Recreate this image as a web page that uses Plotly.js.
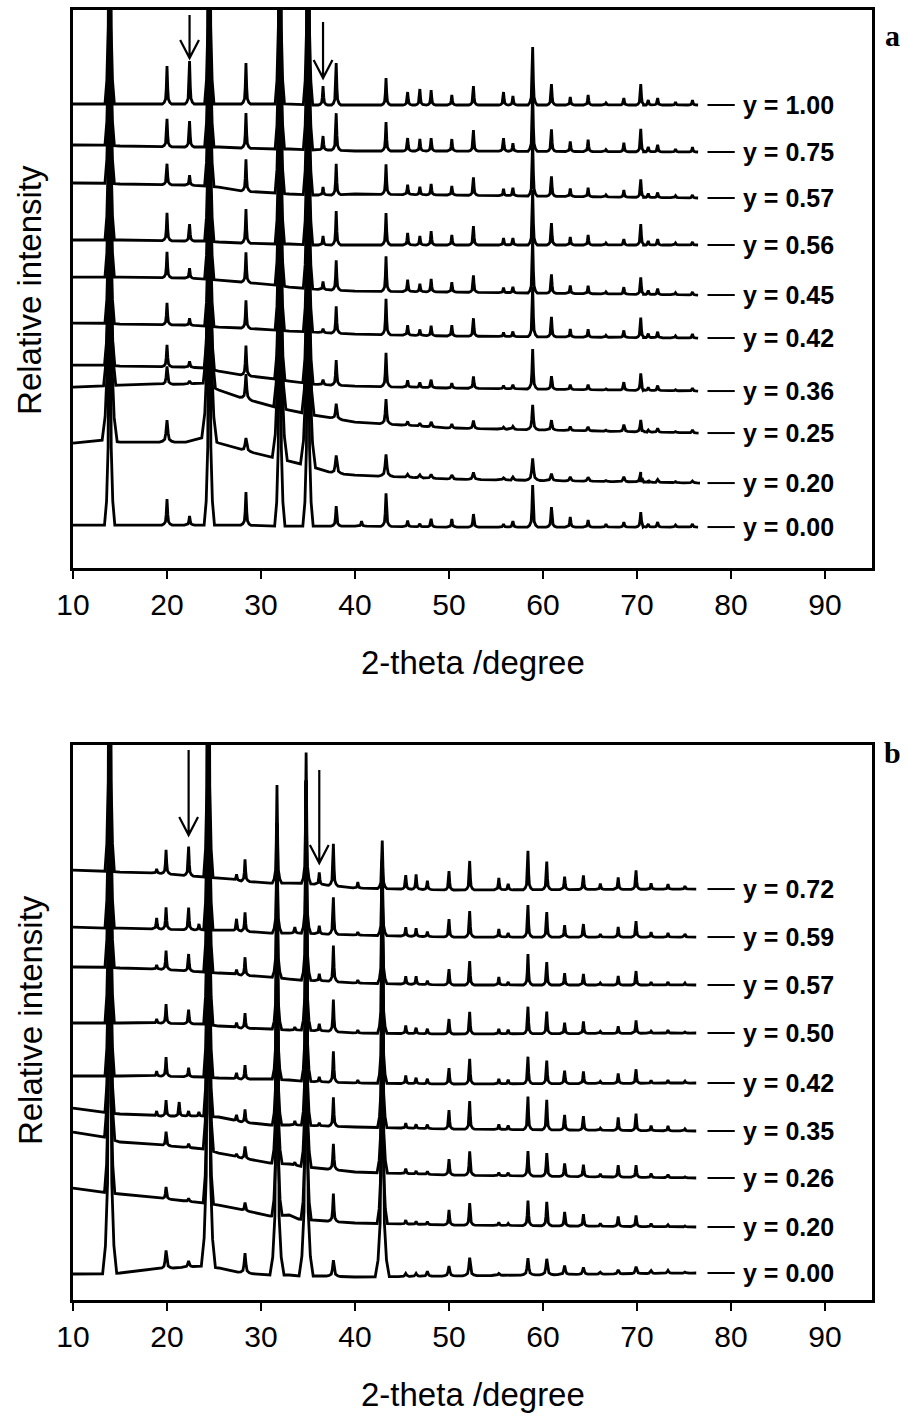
<!DOCTYPE html>
<html><head><meta charset="utf-8">
<script src="https://cdn.plot.ly/plotly-3.0.1.min.js"></script>
<style>html,body{margin:0;padding:0;background:#fff}</style>
</head><body><div id="chart" style="width:908px;height:1418px"></div>
<script>
// ================= DATA =================
// ---- Panel a ----
const PEAKS_A = [13.9, 20.0, 22.4, 24.5, 28.4, 32.0, 35.0, 36.6, 38.0, 40.7, 43.3, 45.6, 46.9, 48.1, 50.3, 52.6, 55.8, 56.8, 58.9, 60.9, 62.9, 64.8, 66.7, 68.6, 70.4, 71.2, 72.2, 74.1, 75.9];
const LABELS_A = ['y = 1.00','y = 0.75','y = 0.57','y = 0.56','y = 0.45','y = 0.42','y = 0.36','y = 0.25','y = 0.20','y = 0.00'];
const BASE_X_A = [10, 13, 15, 22, 24, 25.5, 28, 31.5, 33, 35.5, 37.6, 40, 50, 76.5];
const BASE_A_100 = [464,464,464,464,464,464,464,464,464,463,463,463,463,463];
const BASE_A_075 = [423,423,422,421,421,421,420,419,419,418,418,417,417,416];
const BASE_A_057 = [385,385,384,383,382,381,377,375,374,373,373,374,373,370];
const BASE_A_056 = [328,328,328,327,327,326,325,324,324,323,323,323,323,323];
const BASE_A_045 = [291,291,291,290,289,288,286,283,281,279,278,277,276,273];
const BASE_A_042 = [245,245,244,243,242,241,240,238,237,236,235,234,232,230];
const BASE_A_036 = [203,203,202,201,200,197,193,189,187,184,183,182,180,177];
const BASE_A_025 = [181,182,183,184,185,178,170,161,158,153,150,146,140,135];
const BASE_A_020 = [125,128,126,126,131,125,118,110,107,101,95,93,89,85];
const BASE_A_000 = [43,43,43,43,43,43,43,42,42,42,42,42,41,41];
const INT_A_100 = [600,38,43,600,41,600,600,19,42,0,27,13,16,15,10,19,13,9,58,21,8,10,2,7,21,5,7,3,5];
const INT_A_075 = [600,28,26,600,35,600,600,14,37,0,29,13,12,13,12,21,13,8,60,22,10,12,2,9,23,5,7,3,5];
const INT_A_057 = [600,21,10,600,32,600,600,8,31,0,30,10,8,11,9,18,7,8,55,20,8,9,2,7,18,4,5,2,3];
const INT_A_056 = [600,28,17,600,34,600,600,9,34,0,32,12,9,14,10,19,7,7,55,22,8,10,2,6,21,4,6,2,3];
const INT_A_045 = [600,26,10,600,30,600,600,8,30,0,35,12,8,13,10,17,5,6,55,19,8,8,2,7,17,4,6,2,3];
const INT_A_042 = [600,22,7,600,28,600,600,4,27,0,36,10,6,10,11,18,4,5,50,20,8,8,2,7,20,4,6,2,4];
const INT_A_036 = [600,22,6,600,30,600,600,5,25,0,34,7,5,8,5,12,3,4,40,13,5,5,1,8,17,3,5,1,3];
const INT_A_025 = [600,18,3,600,25,600,600,0,15,0,25,4,3,5,4,8,2,3,25,10,4,4,1,7,12,2,4,1,3];
const INT_A_020 = [600,22,0,600,13,600,600,0,18,0,22,3,3,4,4,7,2,3,22,7,4,4,1,5,10,2,3,1,2];
const INT_A_000 = [600,26,9,600,33,600,600,0,20,5,33,6,3,8,8,13,3,6,42,20,10,7,3,5,15,3,5,2,3];

// ---- Panel b ----
const PEAKS_B = [13.9, 18.9, 19.9, 21.3, 22.3, 23.4, 24.4, 27.4, 28.3, 31.7, 33.6, 34.8, 36.2, 37.7, 40.3, 42.9, 45.4, 46.5, 47.7, 50.0, 52.2, 55.3, 56.3, 58.4, 60.4, 62.3, 64.3, 66.1, 68.0, 69.9, 71.5, 73.3, 75.1];
const LABELS_B = ['y = 0.72','y = 0.59','y = 0.57','y = 0.50','y = 0.42','y = 0.35','y = 0.26','y = 0.20','y = 0.00'];
const BASE_X_B = [10, 13, 15, 19, 24, 25.5, 28, 31, 33, 34, 37, 40, 50, 76.3];
const BASE_B_072 = [430,429,428,427,423,422,419,417,417,417,415,412,410,411];
const BASE_B_059 = [373,372,372,371,370,370,369,367,367,367,366,365,363,363];
const BASE_B_057 = [333,333,332,331,328,327,325,323,321,320,319,317,315,315];
const BASE_B_050 = [277,277,277,277,276,274,272,271,270,270,269,267,266,267];
const BASE_B_042 = [224,224,224,224,223,222,221,221,220,219,218,217,216,217];
const BASE_B_035 = [192,188,186,184,184,183,178,175,175,175,174,173,171,169];
const BASE_B_026 = [168,164,158,155,151,147,142,137,136,134,131,128,125,122];
const BASE_B_020 = [112,108,106,102,97,95,90,84,85,81,79,77,75,73];
const BASE_B_000 = [26,26,27,31,34,32,27,25,25,24,24,23,24,27];
const INT_B_072 = [700,4,24,0,29,0,700,6,22,98,0,131,12,42,6,48,14,15,9,19,29,12,6,39,28,13,14,6,12,19,6,5,3];
const INT_B_059 = [700,11,22,0,22,6,700,12,19,110,6,150,8,37,3,75,9,8,5,18,26,8,4,32,25,12,13,3,10,16,5,4,3];
const INT_B_057 = [700,4,19,0,17,0,700,5,18,150,0,200,7,36,3,120,8,8,4,16,24,8,3,31,23,12,11,2,9,14,3,3,2];
const INT_B_050 = [700,4,19,0,14,0,700,5,15,200,3,250,7,32,3,170,8,6,5,15,22,5,4,27,22,11,12,2,7,13,2,3,1];
const INT_B_042 = [700,5,19,0,9,0,700,6,14,250,0,300,5,31,3,220,8,6,5,16,25,5,4,27,23,13,12,2,10,14,3,3,2];
const INT_B_035 = [700,5,16,14,5,4,700,6,13,300,4,345,3,29,0,265,5,4,4,19,28,5,4,33,30,15,14,2,13,17,5,5,2];
const INT_B_026 = [700,0,14,0,4,0,700,3,12,340,3,385,0,26,0,310,5,3,3,16,24,3,3,25,23,13,12,3,12,12,4,3,1];
const INT_B_020 = [700,0,12,0,3,0,700,0,8,390,0,435,0,28,0,365,4,3,3,15,22,3,2,25,24,14,12,3,10,11,3,2,1];
const INT_B_000 = [700,0,18,0,6,0,700,0,20,450,0,495,0,16,0,415,3,3,5,10,18,2,0,17,16,9,7,2,4,7,3,3,1];

// ================= STYLE =================
const WIDTH_A = [1,1,1,1,1,1,1.1,1.3,1.6,1.1];
const WIDTH_B = [1,1,1,1,1,1,1.1,1.1,1.5];
const SHAPE_DX = [-0.5,-0.3,-0.15,-0.08,0,0.08,0.15,0.3,0.5];
const SHAPE_F  = [0,0.04,0.13,0.4,1,0.4,0.13,0.04,0];

const SERIES_A = [
  [BASE_A_100, INT_A_100],[BASE_A_075, INT_A_075],[BASE_A_057, INT_A_057],[BASE_A_056, INT_A_056],
  [BASE_A_045, INT_A_045],[BASE_A_042, INT_A_042],[BASE_A_036, INT_A_036],[BASE_A_025, INT_A_025],
  [BASE_A_020, INT_A_020],[BASE_A_000, INT_A_000]];
const SERIES_B = [
  [BASE_B_072, INT_B_072],[BASE_B_059, INT_B_059],[BASE_B_057, INT_B_057],[BASE_B_050, INT_B_050],
  [BASE_B_042, INT_B_042],[BASE_B_035, INT_B_035],[BASE_B_026, INT_B_026],[BASE_B_020, INT_B_020],
  [BASE_B_000, INT_B_000]];

function baseAt(bx, by, x){
  if (x <= bx[0]) return by[0];
  for (let i=1;i<bx.length;i++){
    if (x <= bx[i]){ const t=(x-bx[i-1])/(bx[i]-bx[i-1]); return by[i-1]+t*(by[i]-by[i-1]); }
  }
  return by[by.length-1];
}
function buildLine(peaks, heights, bx, by, w){
  const pts=[], wins=[];
  peaks.forEach((p,i)=>{
    const h=heights[i]; if(!h) return;
    wins.push([p+SHAPE_DX[0]*w, p+SHAPE_DX[SHAPE_DX.length-1]*w]);
    SHAPE_DX.forEach((dx,k)=>{ const x=p+dx*w; pts.push([x, baseAt(bx,by,x)+SHAPE_F[k]*h]); });
  });
  bx.forEach((x,i)=>{ if(!wins.some(([a,b])=>x>=a&&x<=b)) pts.push([x,by[i]]); });
  pts.sort((a,b)=>a[0]-b[0]);
  return {x:pts.map(p=>p[0]), y:pts.map(p=>p[1])};
}

const traces=[], shapes=[], annotations=[];
const LINE = {color:'#000', width:2.8};
function addPanel(series, labels, peaks, bx, widths, xa, ya){
  series.forEach(([by, h], i)=>{
    const d = buildLine(peaks, h, bx, by, widths[i]);
    traces.push({type:'scatter', mode:'lines', x:d.x, y:d.y, xaxis:xa, yaxis:ya,
      line:LINE, hoverinfo:'skip', showlegend:false, name:labels[i]});
    const yEnd = by[by.length-1];
    shapes.push({type:'line', xref:xa, yref:ya, x0:77.5, x1:80.4, y0:yEnd, y1:yEnd, line:{color:'#000', width:2}});
    annotations.push({xref:xa, yref:ya, x:81.1, y:yEnd, xanchor:'left', yanchor:'middle', showarrow:false,
      text:'<b>'+labels[i]+'</b>', font:{family:'Liberation Sans, Arial, sans-serif', size:25, color:'#000'}});
  });
}
addPanel(SERIES_A, LABELS_A, PEAKS_A, BASE_X_A, WIDTH_A, 'x', 'y');
addPanel(SERIES_B, LABELS_B, PEAKS_B, BASE_X_B, WIDTH_B, 'x2', 'y2');

function arrow(xa, ya, x, yTop, yTip){
  const dx=1.0, dy=18;
  shapes.push({type:'path', xref:xa, yref:ya,
    path:`M ${x},${yTop} L ${x},${yTip} M ${x-dx},${yTip+dy} L ${x},${yTip} L ${x+dx},${yTip+dy}`,
    line:{color:'#000', width:2.2}});
}
arrow('x','y',22.4,553,510);
arrow('x','y',36.6,546,490);
arrow('x2','y2',22.3,550,465);
arrow('x2','y2',36.2,530,437);

const TXT = {family:'Liberation Sans, Arial, sans-serif', color:'#000'};
annotations.push({xref:'paper', yref:'paper', x:0.5, y:0.4938, xanchor:'center', yanchor:'middle', showarrow:false,
  text:'2-theta /degree', font:{...TXT, size:33}});
annotations.push({xref:'paper', yref:'paper', x:0.5, y:-0.0736, xanchor:'center', yanchor:'middle', showarrow:false,
  text:'2-theta /degree', font:{...TXT, size:33}});
annotations.push({xref:'paper', yref:'paper', x:-0.0538, y:0.783, xanchor:'center', yanchor:'middle', showarrow:false,
  textangle:-90, text:'Relative intensity', font:{...TXT, size:33}});
annotations.push({xref:'paper', yref:'paper', x:-0.0538, y:0.217, xanchor:'center', yanchor:'middle', showarrow:false,
  textangle:-90, text:'Relative intensity', font:{...TXT, size:33}});
annotations.push({xref:'paper', yref:'paper', x:1.026, y:0.9806, xanchor:'center', yanchor:'middle', showarrow:false,
  text:'<b>a</b>', font:{family:'Liberation Serif, Times New Roman, serif', size:30, color:'#000'}});
annotations.push({xref:'paper', yref:'paper', x:1.026, y:0.4248, xanchor:'center', yanchor:'middle', showarrow:false,
  text:'<b>b</b>', font:{family:'Liberation Serif, Times New Roman, serif', size:30, color:'#000'}});

const XAX = {range:[10,95], tickvals:[10,20,30,40,50,60,70,80,90], ticks:'outside', ticklen:8, tickwidth:2,
  tickcolor:'#000', showline:true, mirror:true, linewidth:3, linecolor:'#000', showgrid:false, zeroline:false,
  tickfont:{...TXT, size:30}, fixedrange:true};
const YAX = {showline:true, mirror:true, linewidth:3, linecolor:'#000', showgrid:false, zeroline:false,
  showticklabels:false, ticks:'', fixedrange:true};

const layout = {
  width:908, height:1418, margin:{l:73, r:36, t:10, b:118},
  paper_bgcolor:'#fff', plot_bgcolor:'#fff', showlegend:false,
  xaxis:{...XAX, anchor:'y', domain:[0,1]},
  yaxis:{...YAX, anchor:'x', domain:[0.5674,1], range:[0,558]},
  xaxis2:{...XAX, anchor:'y2', domain:[0,1]},
  yaxis2:{...YAX, anchor:'x2', domain:[0,0.4302], range:[0,555]},
  shapes:shapes, annotations:annotations
};
Plotly.newPlot('chart', traces, layout, {displayModeBar:false, staticPlot:true});
</script></body></html>
